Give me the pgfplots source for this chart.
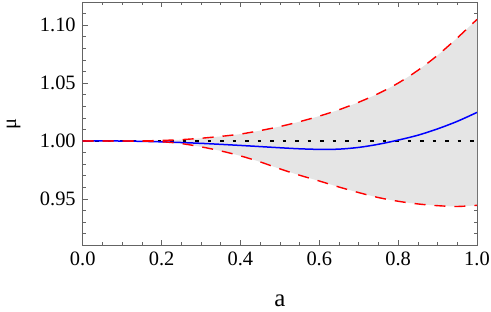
\documentclass[border=0pt]{standalone}
\usepackage{pgfplots}
\pgfplotsset{compat=1.18}
\usepgfplotslibrary{fillbetween}
\usepackage{fontspec}
\setmainfont{Liberation Serif}
\definecolor{framegray}{RGB}{100,100,100}
\definecolor{bandgray}{RGB}{229,229,229}
\begin{document}
\begin{tikzpicture}
\fontsize{20.5}{24}\selectfont
\begin{axis}[
  scale only axis,
  width=394.3bp, height=243.3bp,
  xmin=0, xmax=1, ymin=0.91, ymax=1.12,
  xtick={0,0.2,0.4,0.6,0.8,1.0},
  ytick={0.95,1.00,1.05,1.10},
  minor xtick={0.05,0.1,0.15,0.25,0.3,0.35,0.45,0.5,0.55,0.65,0.7,0.75,0.85,0.9,0.95},
  minor ytick={0.92,0.93,0.94,0.96,0.97,0.98,0.99,1.01,1.02,1.03,1.04,1.06,1.07,1.08,1.09,1.11},
  xticklabel style={/pgf/number format/.cd,fixed,fixed zerofill,precision=1},
  yticklabel style={/pgf/number format/.cd,fixed,fixed zerofill,precision=2},
  /pgf/number format/assume math mode=true,
  tick align=inside,
  major tick length=5bp, minor tick length=3bp,
  tick style={framegray, line width=0.6bp},
  axis line style={framegray, line width=0.8bp},
  xlabel={a}, ylabel={μ},
  ticklabel style={font=\fontsize{20.5}{24}\selectfont},
  label style={font=\fontsize{20.5}{24}\selectfont},
  xlabel style={at={(axis description cs:0.5,-0.226)}, anchor=center, font=\fontsize{25}{28}\selectfont},
  ylabel style={at={(axis description cs:-0.1755,0.5)}, anchor=center},
  xtick pos=both, ytick pos=both,
  xticklabel pos=lower, yticklabel pos=left,
]
\addplot[name path=up, draw=none, forget plot, smooth] coordinates {
(0,1.0000)(0.05,1.0000)(0.1,1.0000)(0.15,1.0001)(0.2,1.0005)(0.25,1.0012)(0.3,1.0024)(0.35,1.0040)(0.4,1.0060)(0.45,1.0090)(0.5,1.0125)(0.55,1.0167)(0.6,1.0215)(0.65,1.0270)(0.7,1.0335)(0.75,1.0410)(0.8,1.0500)(0.85,1.0610)(0.9,1.0740)(0.95,1.0890)(1.0,1.1050)};
\addplot[name path=lo, draw=none, forget plot, smooth] coordinates {
(0,1.0)(0.05,1.0)(0.1,1.0)(0.15,0.9999)(0.2,0.9994)(0.25,0.9978)(0.3,0.9950)(0.35,0.9915)(0.4,0.9872)(0.45,0.9820)(0.5,0.9760)(0.55,0.9705)(0.6,0.9655)(0.65,0.9603)(0.7,0.9555)(0.75,0.9512)(0.8,0.9480)(0.85,0.9457)(0.9,0.9442)(0.95,0.9435)(1.0,0.9445)};
\addplot[bandgray, draw=none] fill between[of=up and lo];
\addplot[black, line width=1.8bp, dash pattern=on 3.3bp off 9.2bp] coordinates {(0,1)(1,1)};
\addplot[blue, line width=1.5bp, smooth] coordinates {
(0,1.0)(0.1,1.0)(0.2,0.9993)(0.3,0.9980)(0.4,0.9962)(0.5,0.9942)(0.55,0.9933)(0.6,0.9928)(0.65,0.9930)(0.7,0.9945)(0.75,0.9972)(0.8,1.0008)(0.85,1.0050)(0.9,1.0105)(0.95,1.0170)(1.0,1.0247)};
\addplot[red, line width=1.4bp, dash pattern=on 11bp off 9bp, smooth] coordinates {
(0,1.0000)(0.05,1.0000)(0.1,1.0000)(0.15,1.0001)(0.2,1.0005)(0.25,1.0012)(0.3,1.0024)(0.35,1.0040)(0.4,1.0060)(0.45,1.0090)(0.5,1.0125)(0.55,1.0167)(0.6,1.0215)(0.65,1.0270)(0.7,1.0335)(0.75,1.0410)(0.8,1.0500)(0.85,1.0610)(0.9,1.0740)(0.95,1.0890)(1.0,1.1050)};
\addplot[red, line width=1.4bp, dash pattern=on 11bp off 9bp, smooth] coordinates {
(0,1.0)(0.05,1.0)(0.1,1.0)(0.15,0.9999)(0.2,0.9994)(0.25,0.9978)(0.3,0.9950)(0.35,0.9915)(0.4,0.9872)(0.45,0.9820)(0.5,0.9760)(0.55,0.9705)(0.6,0.9655)(0.65,0.9603)(0.7,0.9555)(0.75,0.9512)(0.8,0.9480)(0.85,0.9457)(0.9,0.9442)(0.95,0.9435)(1.0,0.9445)};
\end{axis}
\pgfresetboundingbox
\path (current axis.south west) ++(-82.7bp,-66.7bp) rectangle ++(491bp,312bp);
\end{tikzpicture}
\end{document}
